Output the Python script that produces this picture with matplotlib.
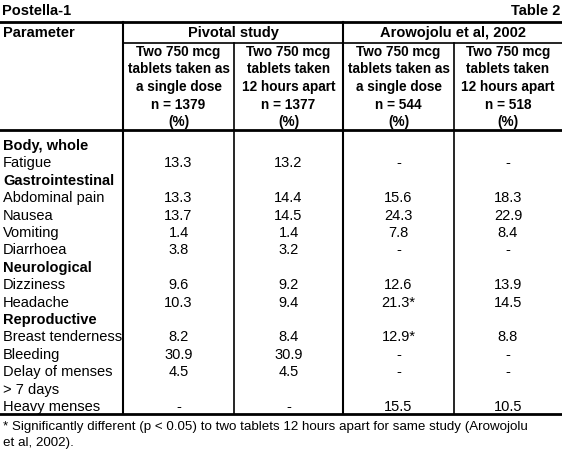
import matplotlib.pyplot as plt

# table content
row_labels = ["Body, whole", "Fatigue", "Gastrointestinal", "Abdominal pain", "Nausea",
              "Vomiting", "Diarrhoea", "Neurological", "Dizziness", "Headache",
              "Reproductive", "Breast tenderness", "Bleeding", "Delay of menses",
              "> 7 days", "Heavy menses"]
section_rows = {"Body, whole", "Gastrointestinal", "Neurological", "Reproductive"}
pivotal_single = ["", "13.3", "", "13.3", "13.7", "1.4", "3.8", "", "9.6", "10.3", "", "8.2", "30.9", "4.5", "", "-"]
pivotal_apart = ["", "13.2", "", "14.4", "14.5", "1.4", "3.2", "", "9.2", "9.4", "", "8.4", "30.9", "4.5", "", "-"]
arow_single = ["", "-", "", "15.6", "24.3", "7.8", "-", "", "12.6", "21.3*", "", "12.9*", "-", "-", "", "15.5"]
arow_apart = ["", "-", "", "18.3", "22.9", "8.4", "-", "", "13.9", "14.5", "", "8.8", "-", "-", "", "10.5"]
group_titles = ["Pivotal study", "Arowojolu et al, 2002"]
sub_headers = [
    "Two 750 mcg\ntablets taken as\na single dose\nn = 1379\n(%)",
    "Two 750 mcg\ntablets taken\n12 hours apart\nn = 1377\n(%)",
    "Two 750 mcg\ntablets taken as\na single dose\nn = 544\n(%)",
    "Two 750 mcg\ntablets taken\n12 hours apart\nn = 518\n(%)",
]
footnote = ("* Significantly different (p < 0.05) to two tablets 12 hours apart for same study (Arowojolu\n"
            "et al, 2002).")

plt.rcParams["font.family"] = "Liberation Sans"
fs = 10.5
fs_head = 9.8

fig = plt.figure(figsize=(5.62, 4.60), dpi=100)
ax = fig.add_axes([0, 0, 1, 1])
ax.set_xlim(0, 562)
ax.set_ylim(460, 0)
ax.axis("off")

col_edges = [123, 234, 343, 454, 562]
col_centers = [(a + b) / 2 for a, b in zip(col_edges[:-1], col_edges[1:])]
row_y0, row_dy = 146, 17.4
bottom = 415

# lines
ax.plot([0, 562], [23, 23], color="black", lw=2)
ax.plot([123, 562], [44, 44], color="black", lw=1.2)
ax.plot([0, 562], [131, 131], color="black", lw=2)
ax.plot([0, 562], [bottom, bottom], color="black", lw=2)
ax.plot([123, 123], [23, bottom], color="black", lw=1.5)
ax.plot([343, 343], [23, bottom], color="black", lw=1.5)
ax.plot([234, 234], [44, bottom], color="black", lw=1.2)
ax.plot([454, 454], [44, bottom], color="black", lw=1.2)

# title and headers
ax.text(2, 11, "Postella-1", fontsize=fs, fontweight="bold", va="center")
ax.text(560, 11, "Table 2", fontsize=fs, fontweight="bold", va="center", ha="right")
ax.text(3, 33, "Parameter", fontsize=fs, fontweight="bold", va="center")
ax.text((123 + 343) / 2, 33, group_titles[0], fontsize=fs, fontweight="bold", va="center", ha="center")
ax.text((343 + 562) / 2, 33, group_titles[1], fontsize=fs, fontweight="bold", va="center", ha="center")
for cx, h in zip(col_centers, sub_headers):
    ax.text(cx, 87, h, fontsize=fs_head, fontweight="bold", va="center", ha="center", linespacing=1.33)

columns = [pivotal_single, pivotal_apart, arow_single, arow_apart]
for i, lbl in enumerate(row_labels):
    y = row_y0 + i * row_dy
    bold = lbl in section_rows
    ax.text(3, y, lbl, fontsize=fs, fontweight="bold" if bold else "normal", va="center")
    for cx, col in zip(col_centers, columns):
        val = col[i]
        if val:
            ax.text(cx, y, val, fontsize=fs, va="center", ha="center")

ax.text(3, 435, footnote, fontsize=9.6, va="center", linespacing=1.4)

fig.savefig("out.png", dpi=100)
